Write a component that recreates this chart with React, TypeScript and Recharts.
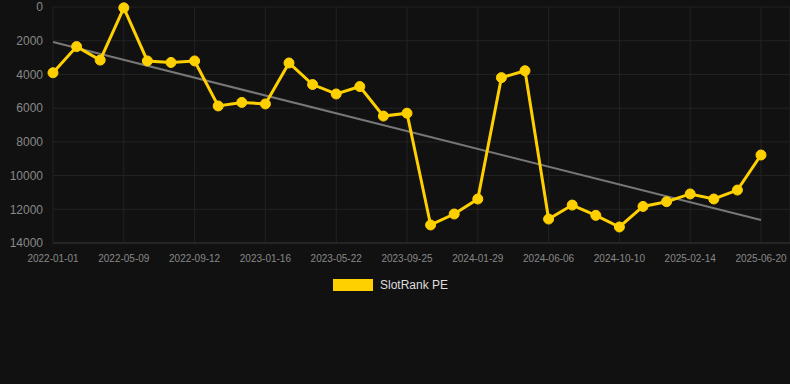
import { CartesianGrid, Line, LineChart, XAxis, YAxis } from "recharts";

const dates = [
  "2022-01-01", "2022-02-12", "2022-03-26", "2022-05-09", "2022-06-20", "2022-08-01",
  "2022-09-12", "2022-10-24", "2022-12-05", "2023-01-16", "2023-02-27", "2023-04-10",
  "2023-05-22", "2023-07-03", "2023-08-14", "2023-09-25", "2023-11-06", "2023-12-18",
  "2024-01-29", "2024-03-12", "2024-04-24", "2024-06-06", "2024-07-18", "2024-08-29",
  "2024-10-10", "2024-11-21", "2025-01-02", "2025-02-14", "2025-03-28", "2025-05-09",
  "2025-06-20",
];

const rank = [
  3900, 2350, 3150, 50, 3200, 3290, 3200, 5870, 5660, 5750, 3320, 4600, 5160, 4720,
  6470, 6300, 12930, 12280, 11390, 4190, 3780, 12580, 11750, 12360, 13050, 11830,
  11550, 11090, 11390, 10860, 8780,
];

// trend line endpoints
const trendStart = 2080;
const trendEnd = 12640;

const yTicks = [0, 2000, 4000, 6000, 8000, 10000, 12000, 14000];

const data = dates.map((date, i) => ({
  date,
  rank: rank[i],
  trend: i === 0 ? trendStart : i === dates.length - 1 ? trendEnd : null,
}));

const yellow = "#FFD000";

export default function App() {
  return (
    <div
      style={{
        position: "fixed",
        top: 0,
        left: 0,
        width: 790,
        height: 384,
        background: "#111111",
        fontFamily: "Arial, 'Liberation Sans', sans-serif",
      }}
    >
      <LineChart width={790} height={384} data={data} margin={{ top: 7, right: 0, left: 0, bottom: 111 }}>
        <CartesianGrid stroke="#232323" />
        <XAxis
          dataKey="date"
          interval={2}
          height={30}
          padding={{ left: 0, right: 29 }}
          tick={{ fill: "#888", fontSize: 10 }}
          tickLine={false}
          tickMargin={6}
          axisLine={{ stroke: "#333" }}
        />
        <YAxis
          reversed
          domain={[0, 14000]}
          ticks={yTicks}
          interval={0}
          width={53}
          tick={{ fill: "#888", fontSize: 12 }}
          axisLine={false}
          tickLine={false}
          tickMargin={4}
        />
        <Line
          dataKey="trend"
          stroke="#777"
          strokeWidth={2}
          dot={false}
          connectNulls
          isAnimationActive={false}
        />
        <Line
          dataKey="rank"
          stroke={yellow}
          strokeWidth={3}
          dot={{ r: 5, fill: yellow, stroke: yellow, strokeWidth: 1 }}
          isAnimationActive={false}
        />
      </LineChart>
      <div
        style={{
          position: "absolute",
          top: 278,
          left: 333,
          display: "flex",
          alignItems: "center",
          gap: 7,
        }}
      >
        <div style={{ width: 40, height: 12, background: yellow }} />
        <span style={{ color: "#ddd", fontSize: 12 }}>SlotRank PE</span>
      </div>
    </div>
  );
}
